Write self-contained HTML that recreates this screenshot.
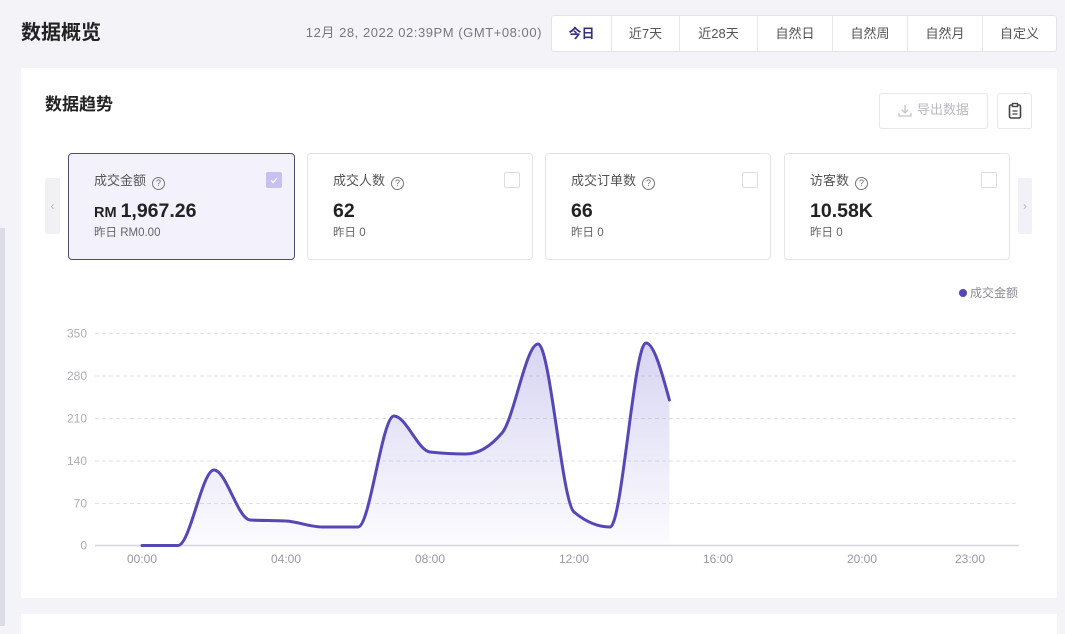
<!DOCTYPE html>
<html><head><meta charset="utf-8"><style>
*{margin:0;padding:0;box-sizing:border-box}
body{width:1065px;height:626px;overflow:hidden;background:#f4f4f8;font-family:"Liberation Sans","Noto Sans CJK SC",sans-serif;position:relative;color:#222}
.a{position:absolute}
.card{background:#fff}
.tabs{left:551px;top:15px;width:506px;height:37px;border:1px solid #e3e3ea;border-radius:3px;background:#fff;display:flex}
.tabs div{height:35px;line-height:35px;text-align:center;font-size:13px;color:#555;border-right:1px solid #e6e6ec}
.tabs div:last-child{border-right:none}
.m{top:153px;width:226px;height:107px;border:1px solid #e3e3e8;border-radius:4px;background:#fff}
.m .l{position:absolute;left:25px;top:19px;font-size:13px;color:#555;line-height:16px;white-space:nowrap}
.m .q{display:inline-block;width:13px;height:13px;border:1px solid #777;border-radius:50%;font-size:9px;line-height:11px;text-align:center;color:#666;vertical-align:-1px;margin-left:6px}
.m .v{position:absolute;left:25px;top:46px;font-size:19.5px;font-weight:bold;color:#222;line-height:22px;white-space:nowrap}
.m .y{position:absolute;left:25px;top:72px;font-size:11.5px;color:#666;line-height:14px;white-space:nowrap}
.m .cb{position:absolute;top:18px;width:16px;height:16px;border:1px solid #dcdce2;border-radius:2px;background:#fff}
</style></head><body>
<div class="a" style="left:0;top:228px;width:5px;height:398px;background:#dcdbe8"></div>
<div class="a card" style="left:21px;top:68px;width:1036px;height:530px;border-radius:2px"></div>
<div class="a card" style="left:21px;top:614px;width:1036px;height:20px"></div>

<div class="a" style="left:21px;top:20px;font-size:20px;font-weight:bold;line-height:26px;color:#222">数据概览</div>
<div class="a" style="left:303px;top:25px;width:239px;text-align:right;font-size:13px;letter-spacing:0.55px;line-height:16px;color:#77777f;white-space:nowrap">12月 28, 2022 02:39PM (GMT+08:00)</div>
<div class="a tabs">
<div style="width:60px;color:#34307a;font-weight:bold">今日</div>
<div style="width:68px">近7天</div>
<div style="width:78px">近28天</div>
<div style="width:75px">自然日</div>
<div style="width:75px">自然周</div>
<div style="width:75px">自然月</div>
<div style="width:73px">自定义</div>
</div>

<div class="a" style="left:45px;top:94px;font-size:17px;font-weight:bold;line-height:22px;color:#222">数据趋势</div>
<div class="a" style="left:879px;top:93px;width:109px;height:36px;border:1px solid #e6e6eb;border-radius:3px;background:#fff"></div>
<svg class="a" style="left:897px;top:103px" width="16" height="16" viewBox="0 0 16 16"><path d="M8 2v8M5 7l3 3 3-3M2 10v3h12v-3" fill="none" stroke="#c4c4cc" stroke-width="1.3"/></svg>
<div class="a" style="left:917px;top:102px;font-size:13px;line-height:16px;color:#b9b9c2">导出数据</div>
<div class="a" style="left:997px;top:93px;width:35px;height:36px;border:1px solid #e6e6eb;border-radius:3px;background:#fff"></div>
<svg class="a" style="left:1007px;top:102px" width="16" height="18" viewBox="0 0 16 18"><rect x="2.5" y="3" width="11" height="13" rx="1.5" fill="none" stroke="#444" stroke-width="1.6"/><rect x="5.5" y="1.5" width="5" height="3" fill="#fff" stroke="#444" stroke-width="1.4"/><path d="M5.5 9h5M5.5 12h5" stroke="#444" stroke-width="1.3"/></svg>

<div class="a" style="left:45px;top:178px;width:15px;height:56px;background:#f1f1f5;border-radius:2px;color:#b5b5be;font-size:12px;line-height:56px;text-align:center">‹</div>
<div class="a" style="left:1018px;top:178px;width:14px;height:56px;background:#f1f1f7;border-radius:2px;color:#b5b5be;font-size:12px;line-height:56px;text-align:center">›</div>

<div class="a m" style="left:68px;width:227px;background:#f3f2fc;border-color:#4f4d70">
<div class="l">成交金额<span class="q">?</span></div>
<div class="v"><span style="font-size:14.5px;margin-right:4px">RM</span>1,967.26</div>
<div class="y">昨日 RM0.00</div>
<div class="cb" style="left:197px;background:#c6c1f0;border-color:#c6c1f0"><svg width="14" height="14" viewBox="0 0 14 14" style="position:absolute;left:0;top:0"><path d="M4 7.5l2 2 4-4.5" fill="none" stroke="#fff" stroke-width="1.3"/></svg></div>
</div>
<div class="a m" style="left:307px;width:226px">
<div class="l">成交人数<span class="q">?</span></div>
<div class="v">62</div>
<div class="y">昨日 0</div>
<div class="cb" style="left:196px"></div>
</div>
<div class="a m" style="left:545px;width:226px">
<div class="l">成交订单数<span class="q">?</span></div>
<div class="v">66</div>
<div class="y">昨日 0</div>
<div class="cb" style="left:196px"></div>
</div>
<div class="a m" style="left:784px;width:226px">
<div class="l">访客数<span class="q">?</span></div>
<div class="v">10.58K</div>
<div class="y">昨日 0</div>
<div class="cb" style="left:196px"></div>
</div>

<svg class="a" style="left:0;top:0" width="1065" height="626" viewBox="0 0 1065 626">
<defs><linearGradient id="g" x1="0" y1="343" x2="0" y2="545" gradientUnits="userSpaceOnUse"><stop offset="0" stop-color="#5a4fc8" stop-opacity="0.24"/><stop offset="1" stop-color="#5a4fc8" stop-opacity="0.02"/></linearGradient></defs>
<circle cx="963" cy="293" r="4" fill="#5346b5"/>
<text x="970" y="297" font-size="12" fill="#8a8a92" font-family="Liberation Sans,Noto Sans CJK SC,sans-serif">成交金额</text>
<g stroke="#e2e2e8" stroke-width="1" stroke-dasharray="4,3">
<line x1="95" y1="333.5" x2="1019" y2="333.5"/>
<line x1="95" y1="376" x2="1019" y2="376"/>
<line x1="95" y1="418.5" x2="1019" y2="418.5"/>
<line x1="95" y1="461" x2="1019" y2="461"/>
<line x1="95" y1="503.5" x2="1019" y2="503.5"/>
</g>
<line x1="95" y1="545.5" x2="1019" y2="545.5" stroke="#d6d6dd" stroke-width="1.6"/>
<g font-size="12" fill="#aeaeb6" text-anchor="end" font-family="Liberation Sans,sans-serif">
<text x="87" y="337.5">350</text><text x="87" y="380">280</text><text x="87" y="422.5">210</text><text x="87" y="465">140</text><text x="87" y="507.5">70</text><text x="87" y="549.5">0</text>
</g>
<g font-size="12" fill="#9a9aa2" text-anchor="middle" font-family="Liberation Sans,sans-serif">
<text x="142" y="563">00:00</text><text x="286" y="563">04:00</text><text x="430" y="563">08:00</text><text x="574" y="563">12:00</text><text x="718" y="563">16:00</text><text x="862" y="563">20:00</text><text x="970" y="563">23:00</text>
</g>
<path d="M142,545.5 C154,545.5 166,545.5 178,545.5 C190,545.5 202,470 214,470 C226,470 238,519.3 250,520 C262,520.7 274,520.3 286,521 C298,521.7 310,527 322,527 C334,527 346,527 358,527 C370,527 382,416 394,416 C406,416 418,450.7 430,452 C442,453.3 454,454 466,454 C478,454 490,447 502,433 C514,419 526,344 538,344 C550,344 562,502 574,512 C586,522 598,527 610,527 C622,527 634,343 646,343 C653.8,343 661.6,371.5 669.4,400 L669.4,545.5 Z" fill="url(#g)"/>
<path d="M142,545.5 C154,545.5 166,545.5 178,545.5 C190,545.5 202,470 214,470 C226,470 238,519.3 250,520 C262,520.7 274,520.3 286,521 C298,521.7 310,527 322,527 C334,527 346,527 358,527 C370,527 382,416 394,416 C406,416 418,450.7 430,452 C442,453.3 454,454 466,454 C478,454 490,447 502,433 C514,419 526,344 538,344 C550,344 562,502 574,512 C586,522 598,527 610,527 C622,527 634,343 646,343 C653.8,343 661.6,371.5 669.4,400" fill="none" stroke="#5647b8" stroke-width="3" stroke-linecap="round" stroke-linejoin="round"/>
</svg>
</body></html>
